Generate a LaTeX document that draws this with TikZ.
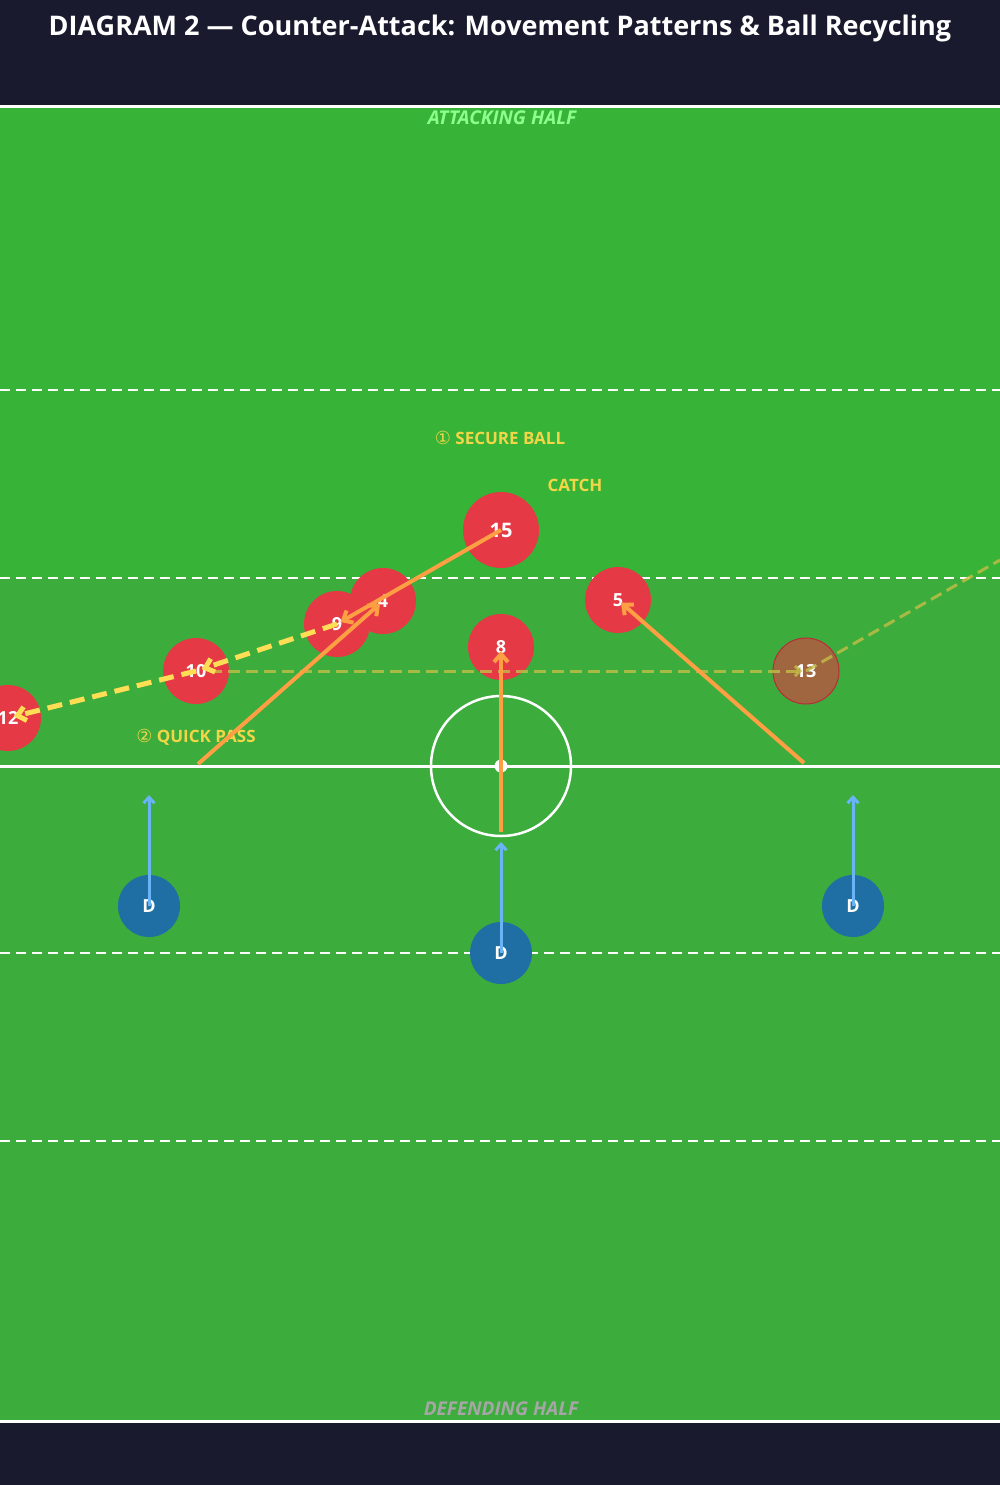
\documentclass[tikz,border=0pt]{standalone}
\usepackage{fontspec}
\setmainfont{Open Sans}
\newfontfamily\symfont{DejaVu Sans}
\usetikzlibrary{arrows.meta}
\definecolor{night}{HTML}{1A1A2E}
\definecolor{pitchtop}{HTML}{37B337}
\definecolor{pitch}{HTML}{3CAC3C}
\definecolor{redshirt}{HTML}{E63946}
\definecolor{brownshirt}{HTML}{A0663F}
\definecolor{blueshirt}{HTML}{1F6FA5}
\definecolor{runcol}{HTML}{FF9F43}
\definecolor{passcol}{HTML}{FFDD55}
\definecolor{defcol}{HTML}{6AB4F5}
\definecolor{tagcol}{HTML}{F2D648}
\definecolor{olive}{HTML}{C2BE45}
\tikzset{
  player/.style={circle,fill=redshirt,minimum size=66pt,inner sep=0pt,text=white,font=\fontsize{18}{20}\selectfont\bfseries},
  defender/.style={circle,fill=blueshirt,minimum size=62pt,inner sep=0pt,text=white,font=\fontsize{18}{20}\selectfont\bfseries},
  tag/.style={text=tagcol,font=\fontsize{17}{20}\selectfont\bfseries},
  halftag/.style={font=\fontsize{19}{22}\selectfont\bfseries\itshape},
  zone/.style={white,line width=2pt,dash pattern=on 10pt off 6pt},
  run/.style={runcol,line width=4pt,-{Straight Barb[length=8pt,width=14pt]},shorten >=4pt},
  pass/.style={passcol,line width=5pt,dash pattern=on 15pt off 8pt,-{Straight Barb[length=8pt,width=14pt]},shorten >=6pt},
  defrun/.style={defcol,line width=3pt,-{Straight Barb[length=6pt,width=11pt]}},
  option/.style={olive,opacity=0.8,line width=3pt,dash pattern=on 12pt off 6pt}
}
\begin{document}
\begin{tikzpicture}[x=1pt,y=-1pt]
\useasboundingbox (0,0) rectangle (1000,1485);
\fill[night] (0,0) rectangle (1000,1485);
\node (title) at (500,28) {\fontsize{27}{31}\selectfont\bfseries\color{white}DIAGRAM 2 --- Counter-Attack: Movement Patterns \& Ball Recycling};

% pitch
\fill[pitch] (0,108) rectangle (1000,1420);
\fill[pitchtop] (0,108) rectangle (1000,578);
\draw[white,line width=3pt] (0,107) -- (1000,107);
\draw[white,line width=3pt] (0,1421.5) -- (1000,1421.5);
\draw[zone] (0,390) -- (1000,390);
\draw[zone] (0,578) -- (1000,578);
\draw[zone] (0,953) -- (1000,953);
\draw[zone] (0,1141) -- (1000,1141);
\draw[white,line width=3pt] (0,766) -- (1000,766);
\draw[white,line width=2.5pt] (501,766) circle (70);
\fill[white] (501,766) circle (6.5);

\node[halftag,text=green!45!white] (att) at (502,118) {ATTACKING HALF};
\node[halftag,text=gray!70!white] (def) at (501,1409) {DEFENDING HALF};
\node[tag] (secure) at (500,438) {{\symfont\fontsize{18}{20}\selectfont\mdseries ①} SECURE BALL};
\node[tag] (catch) at (575,485) {CATCH};
\node[tag] (quick) at (196,737) {{\symfont\fontsize{18}{20}\selectfont\mdseries ②} QUICK PASS};

% attackers
\node[player,minimum size=76pt,font=\fontsize{20}{22}\selectfont\bfseries] (p15) at (501,530) {15};
\node[player] (p4) at (383,601) {4};
\node[player] (p9) at (337,624) {9};
\node[player] (p5) at (618,600) {5};
\node[player] (p8) at (501,647) {8};
\node[player] (p10) at (196,671) {10};
\node[player] (p12) at (8,718) {12};
\node[player,fill=brownshirt,draw=redshirt!80!black,line width=1pt] (p13) at (806,671) {13};

% defenders
\node[defender] (d1) at (149,906) {D};
\node[defender] (d2) at (501,953) {D};
\node[defender] (d3) at (853,906) {D};

\coordinate (d1to) at (149,795);
\coordinate (d2to) at (501,842);
\coordinate (d3to) at (853,795);
\coordinate (r4from) at (198,764);
\coordinate (r8from) at (501,832);
\coordinate (r5from) at (804,763);
\coordinate (wide) at (1000,560);

% support lines
\begin{scope}
\clip (0,108) rectangle (1000,1420);
\draw[option,-{Straight Barb[length=5pt,width=10pt]},shorten <=14pt,shorten >=4pt] (p10.center) -- (p13.center);
\draw[option] (p13.center) -- (wide);
\end{scope}

% runs
\draw[run] (p15.center) -- (p9.center);
\draw[run] (r4from) -- (p4.center);
\draw[run] (r8from) -- (p8.center);
\draw[run] (r5from) -- (p5.center);

% passes
\draw[pass] (p9.center) -- (p10.center);
\draw[pass] (p10.center) -- (p12.center);

% defence steps up
\draw[defrun] (d1.center) -- (d1to);
\draw[defrun] (d2.center) -- (d2to);
\draw[defrun] (d3.center) -- (d3to);
\end{tikzpicture}
\end{document}
